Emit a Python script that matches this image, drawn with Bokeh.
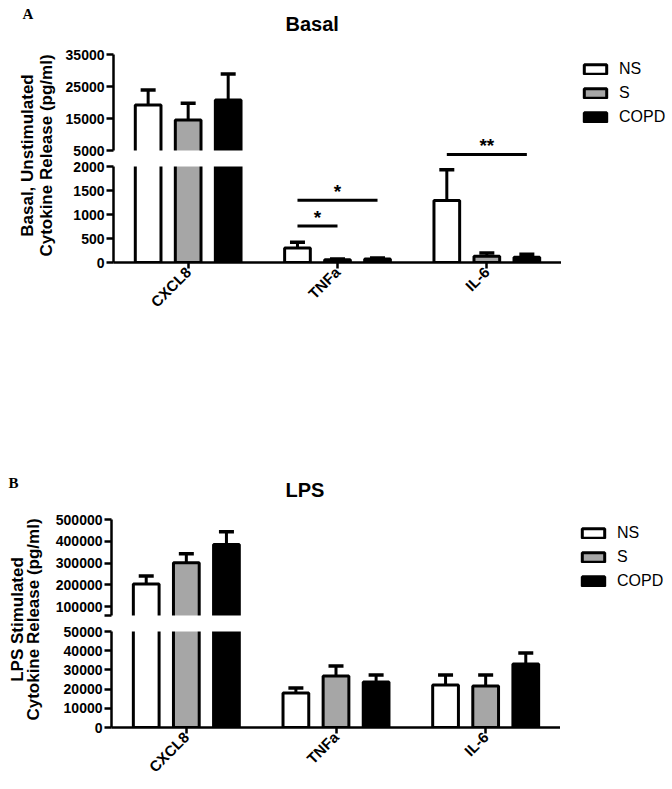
import math
import numpy as np
from bokeh.plotting import figure
from bokeh.models import (ColumnDataSource, FixedTicker, Range1d, FactorRange, Label,
                          Legend, LegendItem, BasicTickFormatter)
from bokeh.transform import dodge
from bokeh.layouts import row, column
from bokeh.embed import file_html
from bokeh.resources import INLINE
from bokeh.core.properties import value

# ---------------- data ----------------
cytokines = ["CXCL8", "TNFa", "IL-6"]
groups = ["NS", "S", "COPD"]
group_colors = ["white", "#a6a6a6", "black"]

basal_ns = [19200, 300, 1290]
basal_ns_err = [4700, 120, 640]
basal_s = [14500, 55, 130]
basal_s_err = [5300, 20, 70]
basal_copd = [20800, 75, 110]
basal_copd_err = [8100, 20, 60]

lps_ns = [204000, 18000, 22100]
lps_ns_err = [37000, 2600, 5200]
lps_s = [302000, 26800, 21600]
lps_s_err = [41000, 5200, 5700]
lps_copd = [385000, 23700, 33100]
lps_copd_err = [59000, 3600, 5700]

# broken-axis segments: (low, high) of each visible segment
basal_upper_seg = (5000, 35000)
basal_lower_seg = (0, 2000)
lps_upper_seg = (60000, 500000)
lps_lower_seg = (0, 50000)

basal_upper_ticks = [5000, 15000, 25000, 35000]
basal_lower_ticks = [0, 500, 1000, 1500, 2000]
lps_upper_ticks = [60000, 100000, 200000, 300000, 400000, 500000]
lps_lower_ticks = [0, 10000, 20000, 30000, 40000, 50000]

# significance brackets (Basal panel)
sig_cytokine = ["TNFa", "TNFa", "IL-6"]
sig_from = ["NS", "NS", "NS"]
sig_to = ["S", "COPD", "COPD"]
sig_height = [760, 1296, 3750]
sig_segment = ["lower", "lower", "upper"]
sig_text = ["*", "*", "**"]

# ---------------- style ----------------
FONT = "Liberation Sans"
SERIF = "Liberation Serif"
OFFSETS = {"NS": -0.268, "S": 0.0, "COPD": 0.268}
BAR_W = 0.172


def style_axis(ax):
    ax.axis_line_width = 2.5
    ax.axis_line_color = "black"
    ax.major_tick_line_width = 2.5
    ax.major_tick_line_color = "black"
    ax.major_tick_in = 0
    ax.minor_tick_line_color = None
    ax.major_label_text_font = FONT
    ax.major_label_text_font_size = "14px"
    ax.major_label_text_font_style = "bold"
    ax.major_label_text_color = "black"


def seg_fig(x_range, seg, ticks, frame_h, seg_px, is_upper, width, height,
            left, top, bottom, overrides=None):
    lo, hi = seg
    per_px = (hi - lo) / seg_px
    if is_upper:
        y0, y1 = lo - (frame_h - seg_px) * per_px, hi
    else:
        y0, y1 = lo, hi + (frame_h - seg_px) * per_px
    p = figure(width=width, height=height, x_range=x_range,
               y_range=Range1d(y0, y1), output_backend="svg",
               toolbar_location=None, title=None,
               x_axis_location=None if is_upper else "below",
               min_border_left=left, min_border_right=0,
               min_border_top=top, min_border_bottom=bottom,
               outline_line_color=None)
    p.grid.visible = False
    ax = p.yaxis[0]
    ax.ticker = FixedTicker(ticks=ticks)
    ax.bounds = (lo, hi)
    ax.formatter = BasicTickFormatter(use_scientific=False)
    if overrides:
        ax.major_label_overrides = overrides
    ax.major_tick_out = 7
    ax.major_label_standoff = 2
    style_axis(ax)
    if not is_upper:
        xa = p.xaxis[0]
        style_axis(xa)
        xa.major_label_text_font_size = "15px"
        xa.major_tick_out = 6
        xa.major_label_standoff = 1
        xa.major_label_orientation = math.pi / 4
    return p, (y0, y1)


def draw_bars(p, vals, errs, seg, yr, is_upper):
    y0, y1 = yr
    # the bars are cut in the middle of the white break band of this segment
    if is_upper:
        band_bottom, band_top = y0, seg[0]
    else:
        band_bottom, band_top = seg[1], y1
    cut = (band_bottom + band_top) / 2
    for g, col, v, e in zip(groups, group_colors, vals, errs):
        v = np.asarray(v, dtype=float)
        e = np.asarray(e, dtype=float)
        if is_upper:
            bar_top, bar_bottom = np.maximum(v, cut), cut
        else:
            bar_top, bar_bottom = np.minimum(v, cut), 0
        src = ColumnDataSource(dict(cat=cytokines, top=bar_top, val=v, err=v + e))
        xd = dodge("cat", OFFSETS[g], range=p.x_range)
        p.vbar(x=xd, top="top", bottom=bar_bottom, width=BAR_W, source=src,
               fill_color=col, line_color="black", line_width=3)
        p.segment(x0=xd, y0="val", x1=xd, y1="err", source=src,
                  line_color="black", line_width=3)
        p.scatter(x=xd, y="err", marker="dash", size=15, source=src,
                  line_color="black", line_width=3.5)
    p.quad(left=-1, right=len(cytokines) + 1, bottom=band_bottom, top=band_top,
           fill_color="white", line_color=None)


def draw_sig(p, which):
    idx = [i for i, s in enumerate(sig_segment) if s == which]
    if not idx:
        return
    x0 = [(sig_cytokine[i], OFFSETS[sig_from[i]]) for i in idx]
    x1 = [(sig_cytokine[i], OFFSETS[sig_to[i]]) for i in idx]
    xm = [(sig_cytokine[i], (OFFSETS[sig_from[i]] + OFFSETS[sig_to[i]]) / 2) for i in idx]
    src = ColumnDataSource(dict(x0=x0, x1=x1, xm=xm,
                                y=[sig_height[i] for i in idx],
                                t=[sig_text[i] for i in idx]))
    p.segment(x0="x0", y0="y", x1="x1", y1="y", source=src,
              line_color="black", line_width=3)
    p.text(x="xm", y="y", text="t", source=src, text_align="center",
           text_baseline="middle", y_offset=-9, text_font=value(FONT),
           text_font_size="19px", text_font_style="bold", text_color="black")


def blank_fig(w, h):
    p = figure(width=w, height=h, x_range=Range1d(0, w), y_range=Range1d(0, h),
               output_backend="svg", toolbar_location=None, title=None,
               x_axis_location=None, y_axis_location=None, min_border=0,
               outline_line_color=None)
    p.grid.visible = False
    return p


def legend_fig(w, h, loc):
    p = blank_fig(w, h)
    lx, ly = loc
    # style-carrying placeholder renderers for the legend; a zero-size bar that
    # sits inside the legend box and is hidden by the legend's white background
    rs = []
    for c in group_colors:
        src = ColumnDataSource(dict(x=[lx + 70], top=[ly + 45]))
        rs.append(p.vbar(x="x", top="top", bottom="top", width=0, source=src,
                         fill_color=c, line_color="black", line_width=3))
    legend = Legend(items=[LegendItem(label=g, renderers=[r]) for g, r in zip(groups, rs)],
                    location=loc, orientation="vertical", glyph_width=28, glyph_height=12,
                    label_height=12, spacing=6, label_standoff=10, padding=0, margin=0,
                    border_line_color=None, background_fill_color="white",
                    background_fill_alpha=1.0,
                    label_text_font=FONT, label_text_font_size="16px",
                    label_text_color="black")
    p.add_layout(legend)
    return p


def text_label(p, x, y, text, size, font=FONT, angle=0, align="left"):
    p.add_layout(Label(x=x, y=y, text=text, angle=angle, text_align=align,
                       text_baseline="middle", text_font=font, text_font_size=size,
                       text_font_style="bold", text_color="black"))


# ---------------- Panel A (Basal) ----------------
headA = blank_fig(671, 45)
text_label(headA, 22, 31.5, "A", "15px", font=SERIF)
text_label(headA, 285, 21.5, "Basal", "20px")

xrA = FactorRange(*cytokines, range_padding=0)
vA = [basal_ns, basal_s, basal_copd]
eA = [basal_ns_err, basal_s_err, basal_copd_err]
upA, yrUA = seg_fig(xrA, basal_upper_seg, basal_upper_ticks, 104, 96, True,
                    501, 113, 53, 9, 0)
draw_bars(upA, vA, eA, basal_upper_seg, yrUA, True)
draw_sig(upA, "upper")

loA, yrLA = seg_fig(xrA, basal_lower_seg, basal_lower_ticks, 104, 96, False,
                    501, 182, 53, 0, 78)
draw_bars(loA, vA, eA, basal_lower_seg, yrLA, False)
draw_sig(loA, "lower")

labA = blank_fig(60, 295)
text_label(labA, 27, 185, "Basal, Unstimulated", "17px", angle=math.pi / 2, align="center")
text_label(labA, 46, 185, "Cytokine Release (pg/ml)", "17px", angle=math.pi / 2, align="center")

legA = legend_fig(110, 295, (20, 214))

panelA = column(headA, row(labA, column(upA, loA), legA))

# ---------------- Panel B (LPS) ----------------
headB = blank_fig(671, 170)
text_label(headB, 8, 27.5, "B", "15px", font=SERIF)
text_label(headB, 285, 21, "LPS", "20px")

xrB = FactorRange(*cytokines, range_padding=0)
vB = [lps_ns, lps_s, lps_copd]
eB = [lps_ns_err, lps_s_err, lps_copd_err]
upB, yrUB = seg_fig(xrB, lps_upper_seg, lps_upper_ticks, 104, 96, True,
                    510, 113, 61, 9, 0, overrides={60000: ""})
draw_bars(upB, vB, eB, lps_upper_seg, yrUB, True)

loB, yrLB = seg_fig(xrB, lps_lower_seg, lps_lower_ticks, 104, 96, False,
                    510, 165, 61, 0, 61)
draw_bars(loB, vB, eB, lps_lower_seg, yrLB, False)

labB = blank_fig(50, 278)
text_label(labB, 16.5, 169, "LPS Stimulated", "17px", angle=math.pi / 2, align="center")
text_label(labB, 33, 169, "Cytokine Release (pg/ml)", "17px", angle=math.pi / 2, align="center")

legB = legend_fig(111, 278, (19, 198))

panelB = column(headB, row(labB, column(upB, loB), legB))

layout = column(panelA, panelB)

open("out.html", "w").write(file_html(layout, INLINE))
